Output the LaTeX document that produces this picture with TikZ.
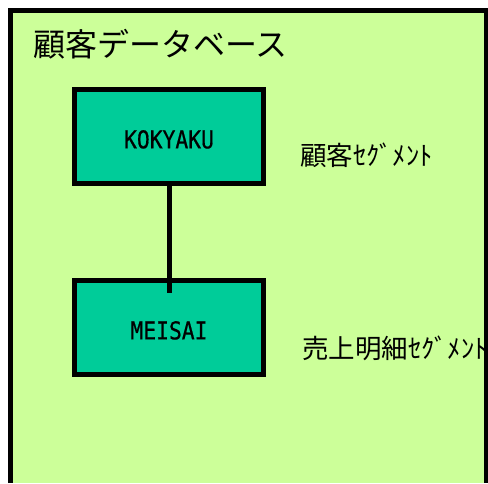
\documentclass[tikz,border=0pt]{standalone}
\usepackage{fontspec}
\usetikzlibrary{positioning}
\newfontfamily\jpfont{Noto Sans CJK JP}
\newfontfamily\segfont[FakeStretch=0.87,FakeBold=0.6]{DejaVu Sans Mono}
\definecolor{dbgreen}{RGB}{204,255,153}
\definecolor{segteal}{RGB}{0,204,153}

\begin{document}
\begin{tikzpicture}[x=1pt,y=-1pt,
  segbox/.style={draw,line width=5pt,fill=segteal,minimum width=189pt,minimum height=94pt,
    inner sep=0pt,text height=24pt,font=\segfont\fontsize{24.5}{24.5}\selectfont},
  seglabel/.style={anchor=west,inner sep=0pt,font=\jpfont\fontsize{26.5}{26.5}\selectfont}]
  \useasboundingbox (0,0) rectangle (488,483);
  \fill[dbgreen] (10.5,10.5) rectangle (490,483);

  \node[anchor=base west,inner sep=0pt,font=\jpfont\fontsize{32}{32}\selectfont] (title) at (33,56) {顧客データベース};

  \node[segbox] (kokyaku) at (169,136.5) {KOKYAKU};
  \node[segbox] (meisai) at (169,327.5) {MEISAI};
  \coordinate[below=14.5pt of meisai.north] (tip);
  \draw[line width=5pt] (kokyaku.south) -- (tip);

  \node[seglabel] (kokyakuseg) at (300,155) {顧客ｾｸﾞﾒﾝﾄ};
  \node[seglabel] (meisaiseg) at (302,348) {売上明細ｾｸﾞﾒﾝﾄ};

  % database frame, open at the bottom
  \draw[line width=5pt] (10.5,483) -- (10.5,10.5) -- (486,10.5) -- (486,483);
\end{tikzpicture}
\end{document}
